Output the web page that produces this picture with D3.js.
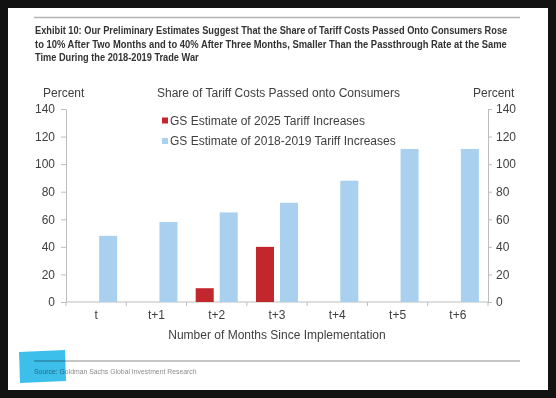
<!DOCTYPE html>
<html>
<head>
<meta charset="utf-8">
<script src="https://cdn.jsdelivr.net/npm/d3@7"></script>
<style>
  body { margin: 0; background: #121212; }
  svg { display: block; }
  .ax text { font-family: "Liberation Sans", Arial, sans-serif; font-size: 12px; fill: #404040; }
  .ax path, .ax line { stroke: #bdbdbd; }
</style>
</head>
<body>
<script>
// chart values
var categories = ["t", "t+1", "t+2", "t+3", "t+4", "t+5", "t+6"];
var seriesNames = ["GS Estimate of 2025 Tariff Increases", "GS Estimate of 2018-2019 Tariff Increases"];
var est2025 = [null, null, 10, 40, null, null, null];
var est2018 = [48, 58, 65, 72, 88, 111, 111];
var yTicks = [0, 20, 40, 60, 80, 100, 120, 140];
var colors = ["#c1272d", "#a9d1ef"];

var titleLines = [
  "Exhibit 10: Our Preliminary Estimates Suggest That the Share of Tariff Costs Passed Onto Consumers Rose",
  "to 10% After Two Months and to 40% After Three Months, Smaller Than the Passthrough Rate at the Same",
  "Time During the 2018-2019 Trade War"
];
var titleWidths = [473, 472, 164];

var W = 556, H = 398;
var svg = d3.select("body").append("svg").attr("width", W).attr("height", H);

// squeeze a text horizontally to a target width (condensed look, no narrow font installed)
function squeeze(sel, x, y, target) {
  var w = sel.node().getComputedTextLength();
  sel.attr("transform", "translate(" + x + "," + y + ") scale(" + (target / w) + ",1)");
}

// white card on dark background
svg.append("rect").attr("x", 8).attr("y", 8).attr("width", 540).attr("height", 382).attr("fill", "#ffffff");

svg.append("line").attr("x1", 34).attr("x2", 520).attr("y1", 17.5).attr("y2", 17.5)
    .attr("stroke", "#b3b3b3").attr("stroke-width", 1.5);

titleLines.forEach(function(t, i) {
  var tx = svg.append("text")
      .style("font-family", "'Liberation Sans', Arial, sans-serif")
      .style("font-weight", "bold")
      .style("font-size", "10.5px")
      .style("fill", "#333333")
      .text(t);
  squeeze(tx, 35, 34 + i * 13.5, titleWidths[i]);
});

// plot
var x = d3.scaleBand().domain(categories).range([66, 488]);
var xs = d3.scaleBand().domain(seriesNames).range([0, x.bandwidth()]).paddingInner(0.25).paddingOuter(0.38);
var y = d3.scaleLinear().domain([0, 140]).range([302, 109]);

svg.append("g").attr("class", "ax").attr("transform", "translate(66,0)")
    .call(d3.axisLeft(y).tickValues(yTicks).tickSize(5).tickSizeOuter(0).tickPadding(6));
svg.append("g").attr("class", "ax").attr("transform", "translate(488,0)")
    .call(d3.axisRight(y).tickValues(yTicks).tickSize(4).tickSizeOuter(0).tickPadding(4));

// x axis: line, ticks on category boundaries, labels centred
var xg = svg.append("g").attr("class", "ax");
xg.append("line").attr("x1", 66).attr("x2", 488).attr("y1", y(0)).attr("y2", y(0));
var bounds = categories.map(function(c) { return x(c); }).concat([x.range()[1]]);
xg.selectAll("line.tk").data(bounds).enter().append("line")
    .attr("class", "tk")
    .attr("x1", function(d) { return d; }).attr("x2", function(d) { return d; })
    .attr("y1", y(0)).attr("y2", y(0) + 4);
xg.selectAll("text").data(categories).enter().append("text")
    .attr("x", function(d) { return x(d) + x.bandwidth() / 2; })
    .attr("y", 319)
    .attr("text-anchor", "middle")
    .text(function(d) { return d; });

var seriesData = [est2025, est2018];
seriesData.forEach(function(vals, s) {
  svg.append("g").selectAll("rect")
      .data(vals.map(function(v, i) { return {c: categories[i], v: v}; }).filter(function(d) { return d.v !== null; }))
      .enter().append("rect")
      .attr("x", function(d) { return x(d.c) + xs(seriesNames[s]); })
      .attr("width", xs.bandwidth())
      .attr("y", function(d) { return y(d.v); })
      .attr("height", function(d) { return y(0) - y(d.v); })
      .attr("fill", colors[s]);
});

var lab = svg.append("g").attr("class", "ax");
lab.append("text").attr("x", 43).attr("y", 97).text("Percent");
lab.append("text").attr("x", 473).attr("y", 97).text("Percent");
lab.append("text").attr("x", 157).attr("y", 97).text("Share of Tariff Costs Passed onto Consumers");
lab.append("text").attr("x", 277).attr("y", 339).attr("text-anchor", "middle").text("Number of Months Since Implementation");

// legend
var leg = svg.append("g").attr("class", "ax");
seriesNames.forEach(function(n, i) {
  var cy = 120.5 + i * 20.5;
  leg.append("rect").attr("x", 162).attr("y", cy - 3).attr("width", 6).attr("height", 6).attr("fill", colors[i]);
  leg.append("text").attr("x", 170).attr("y", cy).attr("dy", "0.35em").text(n);
});

// footer
svg.append("line").attr("x1", 34).attr("x2", 520).attr("y1", 361).attr("y2", 361)
    .attr("stroke", "#b3b3b3").attr("stroke-width", 1.5);
var src = svg.append("text")
    .style("font-family", "'Liberation Sans', Arial, sans-serif")
    .style("font-size", "8px")
    .style("fill", "#8c8c8c")
    .text("Source: Goldman Sachs Global Investment Research");
squeeze(src, 34, 374, 163);

// cyan highlight blob over the source line
svg.append("polygon")
    .attr("points", "19,352 65,350 66,381 20,383")
    .attr("fill", "#3dbfec")
    .style("mix-blend-mode", "multiply");
</script>
</body>
</html>
